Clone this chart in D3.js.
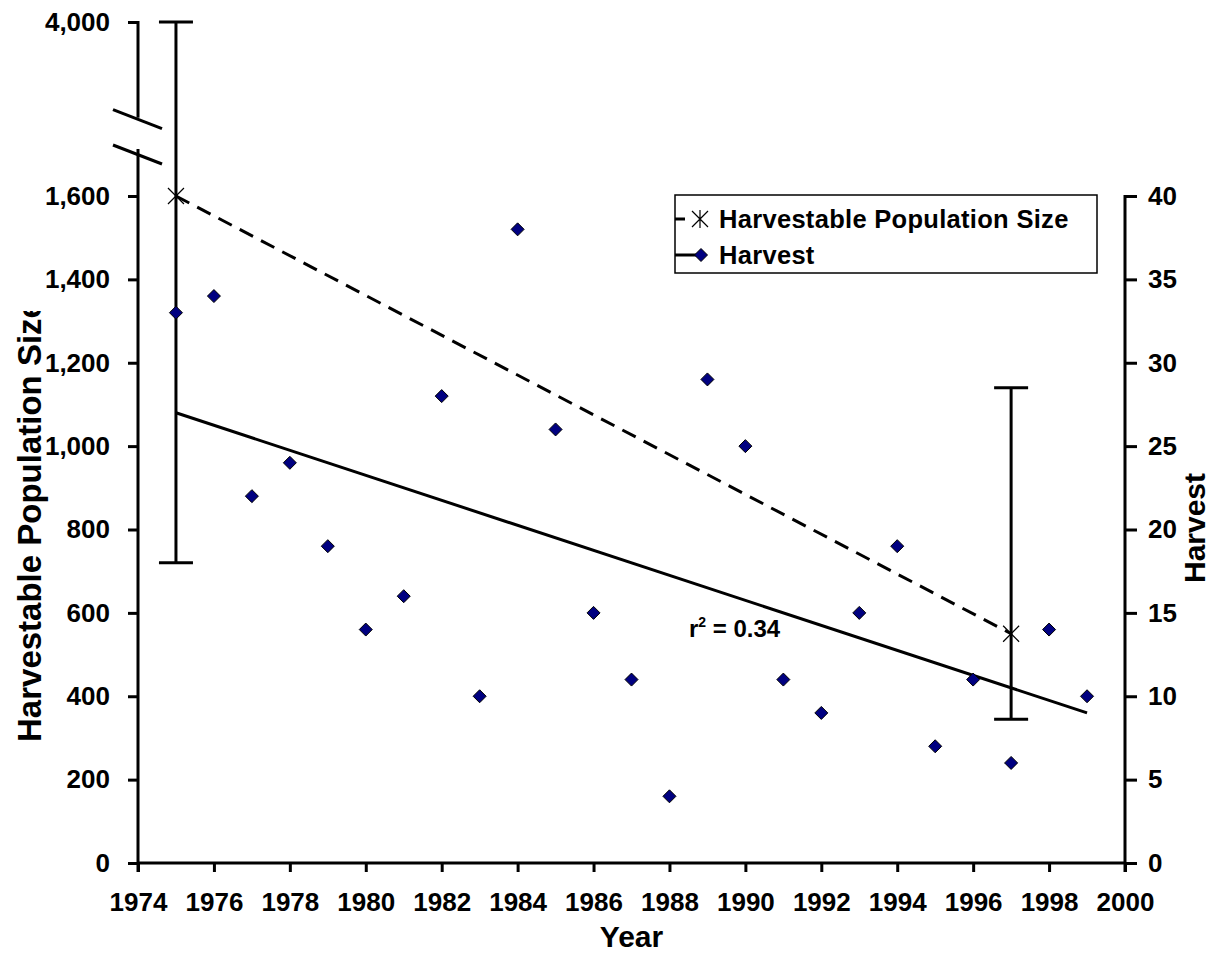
<!doctype html>
<html lang="en">
<head>
  <meta charset="utf-8">
  <title>Harvestable population and harvest</title>
  <style>
  body { margin: 0; background: #fff; }
  svg { display: block; font-family: "Liberation Sans", Arial, sans-serif; font-weight: bold; }
  .axis text { font-size: 26px; fill: #000; }
  .axis line { stroke: #000; stroke-width: 3px; }
  .axis path { display: none; }
  </style>
</head>
<body>
<div id="chart"></div>
<script src="https://cdn.jsdelivr.net/npm/d3@7"></script>
<script>

//------------------data
var years = [1975, 1976, 1977, 1978, 1979, 1980, 1981, 1982, 1983, 1984, 1985, 1986,
             1987, 1988, 1989, 1990, 1991, 1992, 1993, 1994, 1995, 1996, 1997, 1998, 1999];
var harvest = [33, 34, 22, 24, 19, 14, 16, 28, 10, 38, 26, 15,
               11, 4, 29, 25, 11, 9, 15, 19, 7, 11, 6, 14, 10];

var popYears = [1975, 1997];
var popSize  = [1600, 550];
var popLow   = [720, 345];
var popHigh  = [4000, 1140];

var xTicks = d3.range(1974, 2001, 2);
var leftTicks = [0, 200, 400, 600, 800, 1000, 1200, 1400, 1600, 4000];
var rightTicks = [0, 5, 10, 15, 20, 25, 30, 35, 40];

//------------------set up svg
var width = 1216, height = 953;
var svg = d3.select("#chart").append("svg")
    .attr("width", width)
    .attr("height", height);

var x = d3.scaleLinear().domain([1974, 2000]).range([138, 1125]);
// broken axis: linear to 1,600 then jump to 4,000
var yL = d3.scaleLinear().domain([0, 1600, 4000]).range([863, 196, 22]);
var yR = d3.scaleLinear().domain([0, 40]).range([863, 196]);

//------------------axes
svg.append("g").attr("class", "axis")
    .attr("transform", "translate(" + x.range()[0] + ",0)")
    .call(d3.axisLeft(yL).tickValues(leftTicks).tickSize(10).tickPadding(18).tickFormat(d3.format(",")));

svg.append("g").attr("class", "axis")
    .attr("transform", "translate(" + x.range()[1] + ",0)")
    .call(d3.axisRight(yR).tickValues(rightTicks).tickSize(12).tickPadding(11));

svg.append("g").attr("class", "axis")
    .attr("transform", "translate(0," + yL(0) + ")")
    .call(d3.axisBottom(x).tickValues(xTicks).tickSize(9).tickPadding(21).tickFormat(d3.format("d")));

// axis lines
var x0 = x.range()[0], x1 = x.range()[1];
var brkTop = yL(1600) - 0.45 * (yL(1600) - yL(4000));
var brkBot = yL(1600) - 0.27 * (yL(1600) - yL(4000));
var axisLines = svg.append("g").attr("stroke", "#000").attr("stroke-width", 3);
axisLines.append("line").attr("x1", x0).attr("x2", x0).attr("y1", yL(4000) - 1).attr("y2", brkTop);
axisLines.append("line").attr("x1", x0).attr("x2", x0).attr("y1", brkBot).attr("y2", yL(0) + 9);
axisLines.append("line").attr("x1", x1).attr("x2", x1).attr("y1", yR(40) - 1).attr("y2", yR(0) + 9);
axisLines.append("line").attr("x1", x0).attr("x2", x1).attr("y1", yL(0)).attr("y2", yL(0));
// break slashes
[brkTop - 8, brkBot - 4].forEach(function(b) {
  axisLines.append("line")
    .attr("x1", x0 - 25).attr("y1", b)
    .attr("x2", x0 + 24).attr("y2", b + 19);
});

//------------------axis titles
svg.append("defs").append("clipPath").attr("id", "ltclip")
  .append("rect").attr("x", 0).attr("y", 311).attr("width", 80).attr("height", 600);

svg.append("g")
    .attr("clip-path", "url(#ltclip)")
  .append("text")
    .attr("transform", "translate(41,742) rotate(-90)")
    .attr("font-size", "33px")
    .text("Harvestable Population Size");

svg.append("text")
    .attr("transform", "translate(1205,528) rotate(-90)")
    .attr("text-anchor", "middle")
    .attr("font-size", "30px")
    .text("Harvest");

svg.append("text")
    .attr("x", (x0 + x1) / 2)
    .attr("y", 947)
    .attr("text-anchor", "middle")
    .attr("font-size", "30px")
    .text("Year");

//------------------population series + error bars
var starPath = "M-8,-8L8,8M-8,8L8,-8M0,-9L0,9";
var popData = popYears.map(function(d, i) {
  return {year: d, size: popSize[i], low: popLow[i], high: popHigh[i]};
});

svg.append("path")
    .datum(popData)
    .attr("fill", "none")
    .attr("stroke", "#000")
    .attr("stroke-width", 3)
    .attr("stroke-dasharray", "15,9")
    .attr("d", d3.line().x(function(d) { return x(d.year); }).y(function(d) { return yL(d.size); }));

var eb = svg.append("g").attr("stroke", "#000").attr("stroke-width", 3);
popData.forEach(function(d) {
  eb.append("line").attr("x1", x(d.year)).attr("x2", x(d.year)).attr("y1", yL(d.high)).attr("y2", yL(d.low));
  eb.append("line").attr("x1", x(d.year) - 17).attr("x2", x(d.year) + 17).attr("y1", yL(d.high)).attr("y2", yL(d.high));
  eb.append("line").attr("x1", x(d.year) - 17).attr("x2", x(d.year) + 17).attr("y1", yL(d.low)).attr("y2", yL(d.low));
});

svg.selectAll(".star").data(popData).enter()
    .append("path")
    .attr("class", "star")
    .attr("transform", function(d) { return "translate(" + x(d.year) + "," + yL(d.size) + ")"; })
    .attr("d", starPath)
    .attr("fill", "none")
    .attr("stroke", "#000")
    .attr("stroke-width", 1.2);

//------------------harvest regression line
var mx = d3.mean(years), my = d3.mean(harvest);
var sxy = d3.sum(years, function(d, i) { return (d - mx) * (harvest[i] - my); });
var sxx = d3.sum(years, function(d) { return (d - mx) * (d - mx); });
var slope = sxy / sxx, icpt = my - slope * mx;
var ends = d3.extent(years);

svg.append("line")
    .attr("x1", x(ends[0])).attr("y1", yR(icpt + slope * ends[0]))
    .attr("x2", x(ends[1])).attr("y2", yR(icpt + slope * ends[1]))
    .attr("stroke", "#000")
    .attr("stroke-width", 3);

//------------------harvest points
var diamond = "M0,-6.5L6.5,0L0,6.5L-6.5,0Z";
svg.selectAll(".harvest").data(years).enter()
    .append("path")
    .attr("class", "harvest")
    .attr("transform", function(d, i) { return "translate(" + x(d) + "," + yR(harvest[i]) + ")"; })
    .attr("d", diamond)
    .attr("fill", "#000080")
    .attr("stroke", "#000")
    .attr("stroke-width", 1);

//------------------r2 label
var r2 = svg.append("text")
    .attr("x", 689)
    .attr("y", 637)
    .attr("font-size", "24px");
r2.append("tspan").text("r");
r2.append("tspan").attr("font-size", "14px").attr("dy", -10).text("2");
r2.append("tspan").attr("dy", 10).text(" = 0.34");

//------------------legend
var legend = svg.append("g").attr("transform", "translate(675,195)");
legend.append("rect")
    .attr("width", 422).attr("height", 78)
    .attr("fill", "#fff").attr("stroke", "#000").attr("stroke-width", 1.5);

legend.append("line").attr("x1", 0).attr("x2", 24).attr("y1", 24).attr("y2", 24)
    .attr("stroke", "#000").attr("stroke-width", 3).attr("stroke-dasharray", "10,20");
legend.append("path").attr("transform", "translate(25,24)").attr("d", starPath)
    .attr("fill", "none").attr("stroke", "#000").attr("stroke-width", 1.2);
legend.append("text").attr("x", 44).attr("y", 33).attr("font-size", "25.5px")
    .attr("letter-spacing", "0.3px")
    .text("Harvestable Population Size");

legend.append("line").attr("x1", 0).attr("x2", 28).attr("y1", 60).attr("y2", 60)
    .attr("stroke", "#000").attr("stroke-width", 3);
legend.append("path").attr("transform", "translate(26,60)").attr("d", diamond)
    .attr("fill", "#000080").attr("stroke", "#000").attr("stroke-width", 1);
legend.append("text").attr("x", 44).attr("y", 69).attr("font-size", "25.5px")
    .attr("letter-spacing", "0.3px")
    .text("Harvest");

</script>
</body>
</html>
